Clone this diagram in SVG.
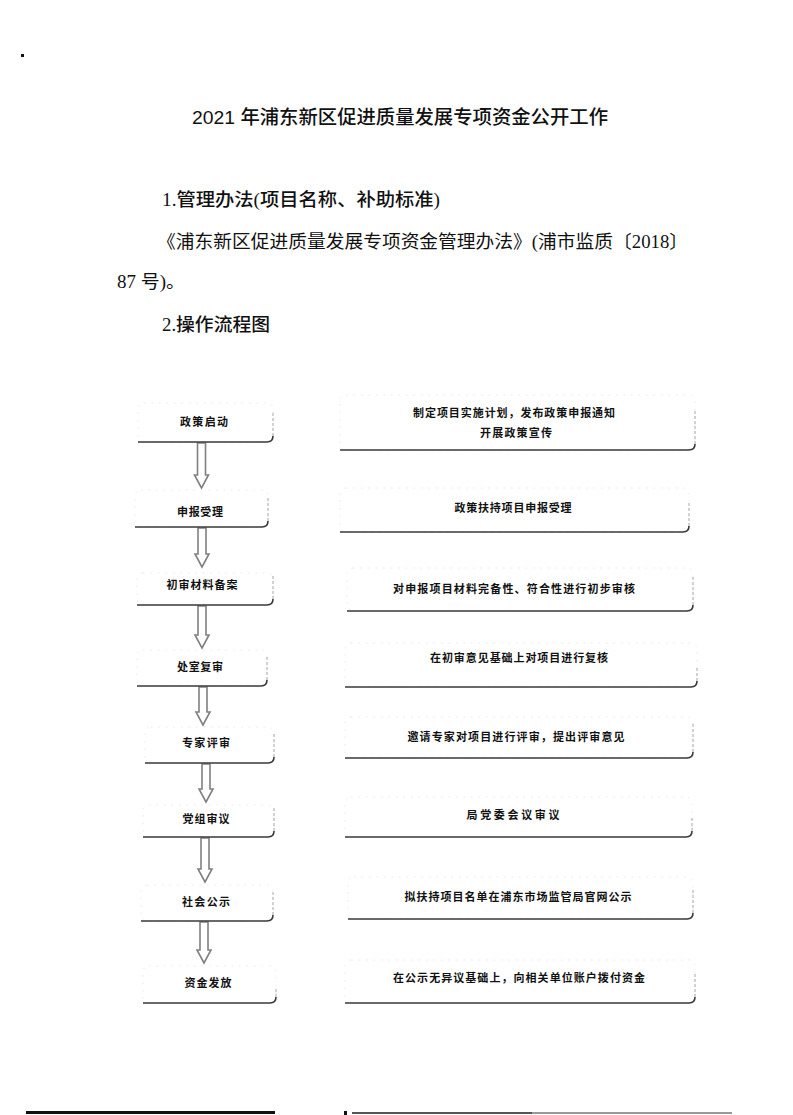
<svg xmlns="http://www.w3.org/2000/svg" width="793" height="1115" viewBox="0 0 793 1115">
<style>
.title{font-family:"Liberation Sans","Noto Sans CJK SC",sans-serif;font-size:19px;fill:#111;font-weight:500}
.body{font-family:"Liberation Serif","Noto Sans CJK SC",serif;font-size:18px;fill:#111}
.head{font-family:"Liberation Serif","Noto Sans CJK SC",serif;font-size:18px;fill:#111;font-weight:500}
.ft{font-family:"Noto Sans CJK SC",sans-serif;font-size:11px;font-weight:bold;fill:#111;text-anchor:middle}
.faint{fill:none;stroke:#e2e2e2;stroke-width:0.8;stroke-dasharray:1.5 6}
.bot{fill:none;stroke:#3a3a3a;stroke-width:1.6}
.rt{fill:none;stroke:#a8a8a8;stroke-width:1;stroke-dasharray:3 2}
.arr{fill:#fff;stroke:#808080;stroke-width:1.6;stroke-linejoin:miter}
</style>
<rect width="793" height="1115" fill="#fff"/>
<rect x="21" y="54" width="3" height="3" fill="#111"/>
<text class="title" x="192" y="124" textLength="416" lengthAdjust="spacingAndGlyphs">2021 年浦东新区促进质量发展专项资金公开工作</text>
<text class="head" x="162" y="206" textLength="278" lengthAdjust="spacingAndGlyphs">1.管理办法(项目名称、补助标准)</text>
<text class="body" x="157" y="248" textLength="531" lengthAdjust="spacingAndGlyphs">《浦东新区促进质量发展专项资金管理办法》(浦市监质〔2018〕</text>
<text class="body" x="117" y="288" textLength="68" lengthAdjust="spacingAndGlyphs">87 号)。</text>
<text class="head" x="162" y="331" textLength="108" lengthAdjust="spacingAndGlyphs">2.操作流程图</text>

<g id="connectors">
<polygon class="arr" points="197.5,443 205.5,443 205.5,475 208.5,475 201.5,488 194.5,475 197.5,475"/>
<polygon class="arr" points="198,528 206,528 206,554 209,554 202,567 195,554 198,554"/>
<polygon class="arr" points="198,606 206,606 206,635 209,635 202,648 195,635 198,635"/>
<polygon class="arr" points="199,687 207,687 207,712 210,712 203,725 196,712 199,712"/>
<polygon class="arr" points="202,764 210,764 210,789 213,789 206,802 199,789 202,789"/>
<polygon class="arr" points="201,838 209,838 209,869 212,869 205,882 198,869 201,869"/>
<polygon class="arr" points="200,922 208,922 208,950 211,950 204,963 197,950 200,950"/>
</g>

<g id="n1">
<rect class="faint" x="138" y="403" width="135" height="39" rx="6"/>
<path class="bot" d="M138,442 L267,442 Q273,442 273,436"/>
<path class="rt" d="M273,436 L273,412"/>
<text class="ft" x="204" y="426" textLength="48">政策启动</text>
</g>
<g id="n2">
<rect class="faint" x="135" y="490" width="133" height="37" rx="6"/>
<path class="bot" d="M135,527 L262,527 Q268,527 268,521"/>
<path class="rt" d="M268,521 L268,498"/>
<text class="ft" x="200" y="516" textLength="46">申报受理</text>
</g>
<g id="n3">
<rect class="faint" x="137" y="573" width="136" height="32" rx="6"/>
<path class="bot" d="M137,605 L267,605 Q273,605 273,599"/>
<path class="rt" d="M273,599 L273,575"/>
<text class="ft" x="202" y="589" textLength="71">初审材料备案</text>
</g>
<g id="n4">
<rect class="faint" x="137" y="650" width="130" height="36" rx="6"/>
<path class="bot" d="M137,686 L261,686 Q267,686 267,680"/>
<path class="rt" d="M267,680 L267,657"/>
<text class="ft" x="200" y="671" textLength="46">处室复审</text>
</g>
<g id="n5">
<rect class="faint" x="145" y="727" width="129" height="36" rx="6"/>
<path class="bot" d="M145,763 L268,763 Q274,763 274,757"/>
<path class="rt" d="M274,757 L274,733"/>
<text class="ft" x="206" y="747" textLength="48">专家评审</text>
</g>
<g id="n6">
<rect class="faint" x="143" y="805" width="131" height="32" rx="6"/>
<path class="bot" d="M143,837 L268,837 Q274,837 274,831"/>
<path class="rt" d="M274,831 L274,808"/>
<text class="ft" x="206" y="823" textLength="47">党组审议</text>
</g>
<g id="n7">
<rect class="faint" x="141" y="885" width="132" height="36" rx="6"/>
<path class="bot" d="M141,921 L267,921 Q273,921 273,915"/>
<path class="rt" d="M273,915 L273,892"/>
<text class="ft" x="206" y="906" textLength="48">社会公示</text>
</g>
<g id="n8">
<rect class="faint" x="143" y="966" width="133" height="37" rx="6"/>
<path class="bot" d="M143,1003 L270,1003 Q276,1003 276,997"/>
<path class="rt" d="M276,997 L276,987"/>
<text class="ft" x="208" y="987" textLength="47">资金发放</text>
</g>

<g id="r1">
<rect class="faint" x="340" y="395" width="355" height="55" rx="6"/>
<path class="bot" d="M340,450 L689,450 Q695,450 695,444"/>
<path class="rt" d="M695,444 L695,410"/>
<text class="ft" x="514" y="417" textLength="202">制定项目实施计划，发布政策申报通知</text>
<text class="ft" x="516" y="437" textLength="72">开展政策宣传</text>
</g>
<g id="r2">
<rect class="faint" x="340" y="488" width="349" height="44" rx="6"/>
<path class="bot" d="M340,532 L683,532 Q689,532 689,526"/>
<path class="rt" d="M689,526 L689,503"/>
<text class="ft" x="513" y="512" textLength="117">政策扶持项目申报受理</text>
</g>
<g id="r3">
<rect class="faint" x="347" y="568" width="346" height="43" rx="6"/>
<path class="bot" d="M347,611 L687,611 Q693,611 693,605"/>
<path class="rt" d="M693,605 L693,577"/>
<text class="ft" x="514" y="593" textLength="242">对申报项目材料完备性、符合性进行初步审核</text>
</g>
<g id="r4">
<rect class="faint" x="345" y="643" width="352" height="44" rx="6"/>
<path class="bot" d="M345,687 L691,687 Q697,687 697,681"/>
<path class="rt" d="M697,681 L697,667"/>
<text class="ft" x="519" y="662" textLength="178">在初审意见基础上对项目进行复核</text>
</g>
<g id="r5">
<rect class="faint" x="345" y="717" width="348" height="41" rx="6"/>
<path class="bot" d="M345,758 L687,758 Q693,758 693,752"/>
<path class="rt" d="M693,752 L693,722"/>
<text class="ft" x="516" y="741" textLength="217">邀请专家对项目进行评审，提出评审意见</text>
</g>
<g id="r6">
<rect class="faint" x="345" y="797" width="347" height="40" rx="6"/>
<path class="bot" d="M345,837 L686,837 Q692,837 692,831"/>
<path class="rt" d="M692,831 L692,817"/>
<text class="ft" x="513" y="819" textLength="93">局党委会议审议</text>
</g>
<g id="r7">
<rect class="faint" x="348" y="877" width="345" height="42" rx="6"/>
<path class="bot" d="M348,919 L687,919 Q693,919 693,913"/>
<path class="rt" d="M693,913 L693,890"/>
<text class="ft" x="518" y="901" textLength="227">拟扶持项目名单在浦东市场监管局官网公示</text>
</g>
<g id="r8">
<rect class="faint" x="345" y="960" width="350" height="43" rx="6"/>
<path class="bot" d="M345,1003 L689,1003 Q695,1003 695,997"/>
<path class="rt" d="M695,997 L695,973"/>
<text class="ft" x="519" y="982" textLength="252">在公示无异议基础上，向相关单位账户拨付资金</text>
</g>

<rect x="26" y="1111" width="249" height="3" fill="#111"/>
<rect x="344" y="1111" width="3" height="4" fill="#111"/>
<rect x="352" y="1112" width="180" height="2" fill="#555"/>
<rect x="532" y="1112" width="200" height="2" fill="#999"/>
</svg>
